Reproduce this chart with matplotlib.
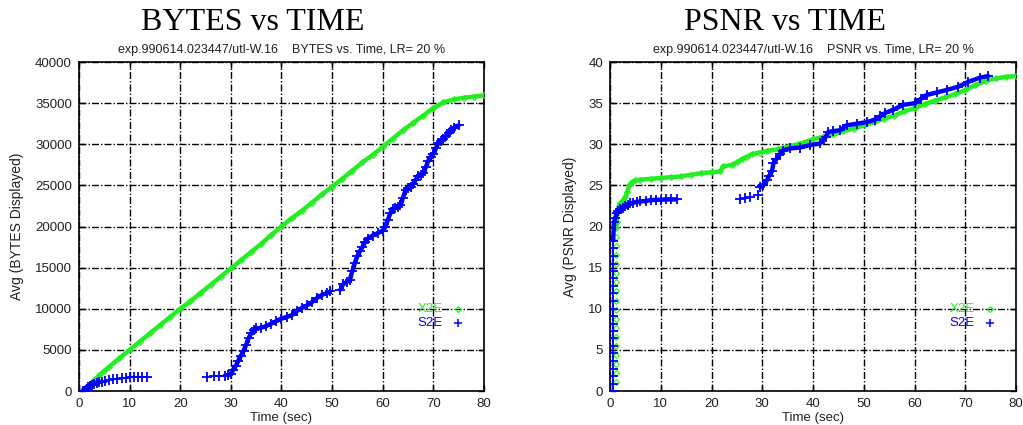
import numpy as np
import matplotlib.pyplot as plt

plt.rcParams['font.family'] = ['Liberation Sans', 'DejaVu Sans']

# ---- BYTES vs TIME ----
bytes_x2e_t = [0.5, 1, 2, 3, 4, 5, 6, 8, 10, 12, 14, 16, 18, 20, 22, 24, 26, 28, 30, 32, 34, 36, 38,
               40, 42, 44, 46, 48, 50, 52, 54, 56, 58, 60, 62, 64, 66, 68, 70, 72, 74, 76, 78, 80]
bytes_x2e_v = [0, 250, 750, 1300, 1900, 2450, 2950, 4000, 5000, 6000, 7000, 8000, 9000, 10000, 10900,
               11900, 12900, 13900, 14900, 15900, 16900, 17900, 19000, 20000, 21000, 21900, 22900,
               23900, 24850, 25800, 26800, 27800, 28700, 29700, 30700, 31700, 32600, 33500, 34400,
               35100, 35450, 35650, 35800, 35950]

bytes_s2e_t = [0, 0.7, 1.2, 1.5, 1.8, 2.1, 2.5, 3, 3.5, 4, 4.5, 5.2, 6, 6.8, 7.6, 8.4, 9.2, 10,
               10.8, 11.6, 12.4, 13.5,
               25.3, 26.6, 27.6, 28.8, 29.5, 30, 30.5, 31, 31.5, 32, 32.5, 33, 33.5, 34, 34.5, 35,
               36, 37, 38, 39, 40, 41, 42, 43, 44, 45, 46, 47, 48, 49, 49.6, 51.6, 52.2, 53, 53.5,
               54, 54.5, 55, 55.5, 56, 56.5, 57, 58, 59, 60, 60.5, 61, 61.5, 62, 62.5, 63, 63.5, 64,
               64.5, 65, 65.5, 66, 66.5, 67, 67.5, 68, 68.5, 69, 69.5, 70, 70.5, 71, 71.5, 72, 72.5,
               73, 73.5, 74, 75]
bytes_s2e_v = [0, 0, 50, 250, 450, 600, 750, 900, 1000, 1100, 1150, 1250, 1350, 1420, 1500, 1560,
               1620, 1680, 1700, 1720, 1730, 1750,
               1750, 1780, 1800, 1850, 1900, 2100, 2600, 3100, 3700, 4300, 4900, 5600, 6400, 7000,
               7400, 7600, 7700, 7900, 8200, 8500, 8800, 9000, 9200, 9700, 10100, 10400, 10800,
               11300, 11700, 11900, 12100, 12300, 13000, 13300, 13500, 14600, 15600, 16400, 17000,
               17500, 18100, 18500, 18900, 19200, 19500, 19900, 20800, 21600, 22100, 22300, 22400,
               22600, 23500, 24400, 24700, 24800, 25200, 25700, 26100, 26300, 26500, 27200, 28000,
               28500, 28800, 29500, 30200, 30400, 30600, 31000, 31400, 31700, 32000, 32300]

# ---- PSNR vs TIME ----
psnr_x2e_t = [1.2] * 18 + [1.3, 1.6, 2, 2.6, 3, 3.4, 3.8, 4.3, 5, 6, 8, 10, 12, 14, 16, 18, 20, 21.7,
               22.3, 24, 25, 26, 27, 28, 29.5, 31, 33, 35, 37, 40, 42, 44, 46, 48, 50, 52, 54, 56,
               58, 60, 62, 64, 66, 68, 70, 72, 74, 76, 78, 80]
psnr_x2e_v = [1.1, 2.2, 3.3, 4.4, 5.5, 6.6, 7.7, 8.8, 9.9, 11.0, 12.1, 13.2, 14.3, 15.4, 16.5, 17.6,
              18.7, 19.8,
              20.5, 22.3, 22.8, 23.2, 23.6, 24.2, 25.0, 25.4, 25.6, 25.7, 25.8, 25.9, 26.0, 26.1,
              26.3, 26.5, 26.6, 26.7, 27.3, 27.5, 27.8, 28.2, 28.5, 28.8, 29.0, 29.2, 29.4, 29.7,
              30.0, 30.6, 30.9, 31.2, 31.6, 31.9, 32.3, 32.7, 33.1, 33.5, 34.0, 34.4, 34.9, 35.3,
              35.7, 36.1, 36.6, 37.2, 37.7, 38.0, 38.2, 38.3]

psnr_s2e_t = [0.6] * 21 + [0.8, 1, 1.3, 1.6, 2, 2.5, 3, 3.5, 4, 4.6, 5.3, 6, 7, 8, 9, 10, 11, 12,
              13.1, 25.6, 26.6, 27.6, 29.2, 29.6, 30.2, 30.9, 31.4, 31.9, 32.2, 32.8, 33.5, 34,
              35.5, 37.4, 39.4, 41.4, 42.5, 43, 44, 45.3, 46.6, 48.6, 50.6, 52.2, 53.2, 54.2, 55.8,
              57.8, 60.1, 61.2, 62.4, 64.4, 66.3, 68.6, 70.6, 72.9, 74.5]
psnr_s2e_v = [0, 0.9, 1.8, 2.7, 3.6, 4.6, 5.5, 6.4, 7.3, 8.2, 9.1, 10.0, 11.0, 11.9, 12.8, 13.7,
              14.6, 15.5, 16.4, 17.4, 18.3,
              20.5, 21.0, 21.6, 21.9, 22.1, 22.3, 22.5, 22.6, 22.8, 22.9, 23.0, 23.05, 23.1, 23.2,
              23.25, 23.25, 23.3, 23.3, 23.3, 23.4, 23.5, 23.6, 23.8, 24.8, 25.1, 25.6, 26.2, 26.7,
              27.7, 28.2, 28.8, 29.2, 29.5, 29.6, 29.9, 30.1, 30.9, 31.5, 31.6, 31.7, 32.3, 32.5,
              32.7, 33.0, 33.4, 33.8, 34.2, 34.8, 35.0, 35.5, 36.0, 36.3, 36.6, 37.0, 37.6, 38.1,
              38.3]

GREEN = '#22ee22'
BLUE = '#0000ff'

fig = plt.figure(figsize=(10.23, 4.25), dpi=100)
ax1 = fig.add_axes([0.0772, 0.08, 0.3959, 0.774])
ax2 = fig.add_axes([0.5963, 0.08, 0.3969, 0.774])


def draw(ax, gt, gv, g_dense, bt, bv, b_dense):
    gt, gv, bt, bv = map(np.array, (gt, gv, bt, bv))
    for sl in g_dense:
        ax.plot(gt[sl], gv[sl], color=GREEN, lw=3.2, solid_capstyle='round', zorder=3)
    ax.plot(gt, gv, ls='none', marker='D', ms=3, mfc='none', mec=GREEN, mew=0.8, zorder=3)
    for sl in b_dense:
        ax.plot(bt[sl], bv[sl], color=BLUE, lw=3.2, solid_capstyle='round', zorder=4)
    ax.plot(bt, bv, ls='none', marker='+', ms=7, mec=BLUE, mew=1.3, zorder=4)


draw(ax1, bytes_x2e_t, bytes_x2e_v, [slice(0, None)],
     bytes_s2e_t, bytes_s2e_v, [slice(1, 11), slice(26, 53), slice(53, None)])
draw(ax2, psnr_x2e_t, psnr_x2e_v, [slice(17, None)],
     psnr_s2e_t, psnr_s2e_v, [slice(20, 40), slice(44, None)])

setups = [
    (ax1, 40000, 5000, 'BYTES'),
    (ax2, 40, 5, 'PSNR'),
]
for ax, ymax, ystep, name in setups:
    ax.set_xlim(0, 80)
    ax.set_ylim(0, ymax)
    ax.set_xticks(np.arange(0, 81, 10))
    ax.set_yticks(np.arange(0, ymax + 1, ystep))
    ax.tick_params(direction='in', top=True, right=True, length=4, width=1,
                   labelsize=9.5, pad=5, colors='black', labelcolor='#222222')
    ax.grid(True, color='black', lw=1, linestyle=(0, (5, 1.5, 1, 1.5)))
    for s in ax.spines.values():
        s.set_linewidth(1.2)
    ax.set_xlabel('Time (sec)', fontsize=9.5, labelpad=1.5, color='#222222')
    ax.set_ylabel('Avg (%s Displayed)' % name, fontsize=10, labelpad=8, color='#222222')
    ax.text(0.5, 1.027, 'exp.990614.023447/utl-W.16    %s vs. Time, LR= 20 %%' % name,
            transform=ax.transAxes, ha='center', va='baseline', fontsize=9, color='#222222')
    # legend, gnuplot style
    ax.text(0.898, 0.248, 'X2E', transform=ax.transAxes, ha='right', va='center',
            fontsize=9.5, color=GREEN)
    ax.text(0.898, 0.208, 'S2E', transform=ax.transAxes, ha='right', va='center',
            fontsize=9.5, color=BLUE)
    ax.plot([0.936], [0.248], transform=ax.transAxes, marker='D', ms=3, mfc='none',
            mec=GREEN, mew=0.8, ls='none')
    ax.plot([0.936], [0.208], transform=ax.transAxes, marker='+', ms=6, mec=BLUE,
            mew=1.1, ls='none')

fig.text(253 / 1023, 1 - 30 / 425, 'BYTES vs TIME', ha='center', va='baseline',
         fontsize=23, family='Liberation Serif')
fig.text(785 / 1023, 1 - 30 / 425, 'PSNR vs TIME', ha='center', va='baseline',
         fontsize=23, family='Liberation Serif')

plt.savefig('out.png')
